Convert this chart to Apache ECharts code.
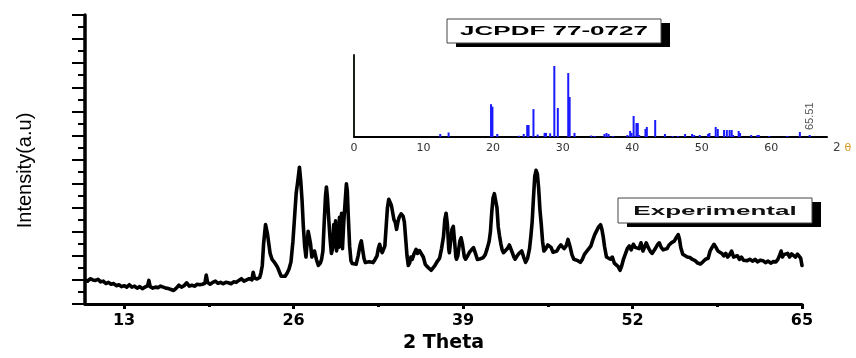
<!DOCTYPE html>
<html>
<head>
<meta charset="utf-8">
<script src="https://cdn.jsdelivr.net/npm/echarts@6/dist/echarts.min.js"></script>
<style>html,body{margin:0;padding:0;background:#fff}#c{width:856px;height:358px}</style>
</head>
<body>
<div id="c"></div>
<script>
// Experimental XRD pattern (2θ, intensity a.u.)
const expTheta = [10.0,10.2,10.4,10.6,10.8,11.0,11.2,11.4,11.6,11.8,12.0,12.2,12.4,12.6,12.8,13.0,13.2,13.4,13.6,13.8,14.0,14.2,14.4,14.6,14.8,14.9,15.0,15.2,15.4,15.6,15.8,16.0,16.2,16.4,16.6,16.8,17.0,17.2,17.4,17.6,17.8,18.0,18.2,18.4,18.6,18.8,19.0,19.2,19.3,19.4,19.6,19.8,20.0,20.2,20.4,20.6,20.8,21.0,21.2,21.4,21.6,21.8,22.0,22.2,22.4,22.6,22.8,22.9,23.0,23.2,23.4,23.5,23.6,23.7,23.85,24.0,24.1,24.2,24.35,24.5,24.65,24.75,24.9,25.05,25.2,25.35,25.5,25.65,25.8,25.95,26.05,26.2,26.3,26.45,26.55,26.65,26.75,26.85,26.95,27.05,27.12,27.2,27.3,27.4,27.5,27.6,27.75,27.9,28.05,28.15,28.25,28.35,28.45,28.52,28.6,28.7,28.8,28.9,29.0,29.08,29.15,29.22,29.3,29.38,29.45,29.52,29.6,29.68,29.75,29.85,29.95,30.05,30.12,30.2,30.3,30.4,30.5,30.65,30.8,30.95,31.1,31.2,31.3,31.4,31.5,31.65,31.8,31.95,32.1,32.25,32.4,32.5,32.6,32.7,32.8,32.9,33.0,33.1,33.2,33.3,33.4,33.5,33.6,33.7,33.8,33.9,34.0,34.1,34.25,34.4,34.5,34.6,34.7,34.8,34.9,35.0,35.1,35.25,35.4,35.5,35.65,35.8,35.95,36.1,36.25,36.4,36.55,36.7,36.85,37.0,37.1,37.2,37.35,37.5,37.6,37.7,37.8,37.9,37.95,38.05,38.15,38.25,38.35,38.45,38.5,38.6,38.75,38.85,38.95,39.1,39.2,39.35,39.5,39.65,39.8,39.95,40.1,40.2,40.35,40.55,40.7,40.85,41.0,41.1,41.2,41.3,41.4,41.5,41.6,41.7,41.8,41.9,42.0,42.1,42.25,42.4,42.55,42.66,42.8,42.9,43.0,43.15,43.3,43.5,43.65,43.8,43.95,44.1,44.2,44.3,44.4,44.5,44.6,44.7,44.8,44.9,45.0,45.1,45.2,45.35,45.5,45.65,45.75,45.9,46.05,46.2,46.35,46.5,46.6,46.75,46.9,47.05,47.2,47.35,47.5,47.65,47.8,48.0,48.15,48.3,48.5,48.65,48.8,48.95,49.1,49.25,49.4,49.55,49.65,49.75,49.85,50.0,50.15,50.3,50.45,50.6,50.75,50.9,51.04,51.15,51.3,51.45,51.6,51.75,51.9,52.06,52.2,52.35,52.5,52.65,52.8,52.95,53.05,53.2,53.35,53.5,53.6,53.75,53.9,54.05,54.2,54.35,54.5,54.65,54.8,55.0,55.2,55.35,55.5,55.6,55.7,55.85,56.0,56.2,56.4,56.6,56.8,57.0,57.2,57.4,57.6,57.8,57.95,58.1,58.25,58.4,58.55,58.7,58.85,59.0,59.15,59.3,59.45,59.6,59.75,59.9,60.05,60.2,60.35,60.5,60.65,60.8,61.0,61.2,61.4,61.6,61.8,62.0,62.2,62.4,62.6,62.8,63.0,63.15,63.3,63.4,63.5,63.6,63.75,63.9,64.05,64.2,64.35,64.5,64.65,64.8,64.9,65.0];
const expIntensity = [1.00,0.95,1.05,1.00,0.98,1.02,0.92,0.95,0.85,0.90,0.82,0.85,0.76,0.80,0.72,0.76,0.70,0.80,0.70,0.74,0.66,0.72,0.64,0.70,0.75,0.98,0.72,0.66,0.70,0.68,0.74,0.70,0.66,0.64,0.60,0.56,0.66,0.78,0.70,0.76,0.88,0.74,0.78,0.74,0.82,0.80,0.82,0.86,1.20,0.90,0.82,0.90,0.95,0.86,0.90,0.84,0.90,0.88,0.84,0.92,0.90,0.98,1.05,0.95,1.00,1.05,1.00,1.32,1.08,1.04,1.10,1.30,1.60,2.50,3.30,2.90,2.50,2.10,1.85,1.75,1.72,1.55,1.35,1.15,1.08,1.15,1.28,1.45,1.75,2.60,3.40,4.60,5.00,5.68,5.10,4.30,3.20,2.40,1.95,2.60,3.02,2.80,2.50,1.95,2.05,2.20,1.85,1.60,1.70,1.86,2.20,3.40,4.50,4.86,4.40,3.50,2.70,2.10,2.30,3.30,2.40,3.45,2.20,3.20,2.35,3.60,2.40,3.77,2.30,3.40,4.20,4.99,4.70,3.60,2.40,1.80,1.68,1.60,1.65,2.00,2.45,2.62,2.25,1.90,1.72,1.68,1.75,1.70,1.72,1.85,2.00,2.30,2.48,2.25,2.13,2.20,2.40,3.20,4.00,4.35,4.30,4.10,3.80,3.50,3.40,3.10,3.40,3.60,3.74,3.65,3.40,2.70,2.00,1.60,1.70,1.95,1.85,2.10,2.27,2.10,2.22,2.20,1.95,1.65,1.55,1.50,1.40,1.45,1.60,1.75,1.80,1.90,2.30,2.80,3.50,3.77,3.30,2.30,2.13,2.60,3.10,3.22,2.60,1.95,1.86,2.00,2.60,2.75,2.50,1.95,1.86,2.00,2.15,2.25,2.34,2.10,1.85,1.80,1.88,1.93,2.05,2.30,2.60,3.00,3.80,4.40,4.58,4.50,4.00,3.20,2.82,2.50,2.25,2.13,2.20,2.30,2.45,2.50,2.10,1.95,1.86,2.00,2.10,2.20,1.95,1.73,1.90,2.30,2.80,3.40,4.40,5.30,5.55,5.40,4.80,3.90,3.30,2.60,2.20,2.30,2.45,2.50,2.35,2.15,2.07,2.20,2.35,2.45,2.48,2.30,2.40,2.68,2.40,2.05,1.86,1.90,1.80,1.73,1.85,2.05,2.20,2.15,2.40,2.65,2.88,2.95,3.20,3.29,3.10,2.80,2.40,1.95,1.93,1.86,1.95,1.70,1.65,1.55,1.40,1.55,1.85,2.07,2.30,2.41,2.25,2.48,2.35,2.40,2.30,2.54,2.20,2.40,2.54,2.35,2.20,2.10,2.07,2.30,2.45,2.54,2.35,2.25,2.27,2.30,2.45,2.55,2.61,2.75,2.88,2.70,2.35,2.07,2.00,1.95,1.93,1.85,1.80,1.70,1.66,1.75,1.86,1.90,2.20,2.35,2.48,2.35,2.20,2.25,2.10,2.00,2.10,1.95,2.05,2.20,1.95,1.90,2.00,1.85,1.95,1.82,1.90,1.80,1.86,1.78,1.85,1.75,1.82,1.80,1.72,1.78,1.70,1.76,1.75,1.85,2.05,2.20,1.95,2.05,2.00,2.10,1.95,2.08,2.05,1.95,2.07,2.00,1.90,1.60];

// Reference pattern JCPDF 77-0727 (2θ, relative intensity)
const refTheta = [12.4,13.6,19.7,19.9,20.6,23.7,24.4,24.9,25.1,25.8,26.4,27.4,27.6,28.2,28.8,29.3,30.8,31.0,31.7,34.1,34.6,36.0,36.3,36.6,37.2,39.3,39.7,39.9,40.2,40.6,40.8,41.0,41.9,42.1,43.3,44.7,45.8,46.6,47.6,48.6,48.9,49.7,50.9,51.1,52.0,52.3,53.2,53.6,54.0,54.3,54.5,55.3,55.5,57.1,58.0,58.2,59.7,62.3,64.1,65.51];
const refIntensity = [3.7,5.5,40,37,3.7,1.5,3.7,14.6,14.6,34,3,5,5,4.5,86.6,35.4,78,48.8,5,1.8,1.2,3.7,4.9,3.7,1.2,2.4,7.3,4.9,25.6,17,17,2.4,9.8,12.2,20.7,3.7,1.2,1.2,3.7,3.7,2.4,2.4,3.7,4.9,12.2,9.8,8.5,8.5,8.5,8.5,2.4,7.3,4.9,2.4,2.4,2.4,1.2,1.2,6.1,2.4];
const labelledPeak = 65.51;

// Axis tick values
const mainMajorTicks = [13, 26, 39, 52, 65];
const mainMinorTicks = [19.5, 32.5, 45.5, 58.5];

const expData = expTheta.map((t, i) => [t, expIntensity[i]]);
const refData = refTheta.map((t, i) => {
  const item = { value: [t, refIntensity[i]] };
  if (t === labelledPeak) {
    item.label = {
      show: true, formatter: String(labelledPeak), position: 'top', rotate: 90,
      align: 'left', verticalAlign: 'middle', distance: 5,
      fontSize: 11, fontFamily: 'Liberation Sans', color: '#555'
    };
  }
  return item;
});

const chart = echarts.init(document.getElementById('c'), null, { renderer: 'canvas' });
chart.setOption({
  backgroundColor: '#fff',
  animation: false,
  grid: [
    { left: 85, top: 15, width: 717, height: 294 },
    { left: 354, top: 55, width: 473, height: 82 }
  ],
  xAxis: [
    {
      gridIndex: 0, type: 'value', min: 10, max: 65, position: 'bottom',
      axisLine: { show: true, onZero: false, lineStyle: { color: '#000', width: 3 } },
      axisTick: { show: true, customValues: mainMajorTicks, length: 5, lineStyle: { color: '#000', width: 3 } },
      axisLabel: { show: true, customValues: mainMajorTicks, margin: 9, color: '#000',
        fontFamily: 'DejaVu Sans', fontWeight: 'bold', fontSize: 16 },
      splitLine: { show: false },
      name: '2 Theta', nameLocation: 'middle', nameGap: 30,
      nameTextStyle: { color: '#000', fontFamily: 'DejaVu Sans', fontWeight: 'bold', fontSize: 19 }
    },
    {
      gridIndex: 0, type: 'value', min: 10, max: 65, position: 'bottom',
      axisLine: { show: false },
      axisTick: { show: true, customValues: mainMinorTicks, length: 3, lineStyle: { color: '#000', width: 3 } },
      axisLabel: { show: false },
      splitLine: { show: false }
    },
    {
      gridIndex: 1, type: 'value', min: 0, max: 68, interval: 10,
      axisLine: { show: true, lineStyle: { color: '#000', width: 2 } },
      axisTick: { show: false },
      axisLabel: { show: true, margin: 6, color: '#333', fontFamily: 'DejaVu Sans', fontSize: 11,
        showMaxLabel: false },
      splitLine: { show: false },
      name: '{a|2 }{b|θ}', nameLocation: 'end', nameGap: 6,
      nameTextStyle: { padding: [22, 0, 0, 0],
        rich: { a: { color: '#444', fontSize: 12, fontFamily: 'DejaVu Sans' },
                b: { color: '#d89a2a', fontSize: 11, fontFamily: 'DejaVu Sans' } } }
    }
  ],
  yAxis: [
    {
      gridIndex: 0, type: 'value', min: 0, max: 12, interval: 1,
      axisLine: { show: true, onZero: false, lineStyle: { color: '#000', width: 3.5 } },
      axisTick: { show: true, inside: false, length: 13, lineStyle: { color: '#000', width: 2 } },
      minorTick: { show: true, splitNumber: 2, length: 7, lineStyle: { color: '#000', width: 2 } },
      axisLabel: { show: false },
      splitLine: { show: false },
      name: 'Intensity(a.u)', nameLocation: 'middle', nameGap: 50, nameRotate: 90,
      nameTextStyle: { color: '#000', fontFamily: 'Liberation Sans', fontSize: 20, padding: [0, 22, 0, 0] }
    },
    {
      gridIndex: 1, type: 'value', min: 0, max: 100,
      axisLine: { show: true, onZero: false, lineStyle: { color: '#1a1f1a', width: 2 } },
      axisTick: { show: false },
      axisLabel: { show: false },
      splitLine: { show: false }
    }
  ],
  series: [
    {
      type: 'line', xAxisIndex: 0, yAxisIndex: 0, data: expData,
      showSymbol: false, symbol: 'none', smooth: false,
      lineStyle: { color: '#000', width: 3.6, join: 'round', cap: 'round' }
    },
    {
      type: 'bar', xAxisIndex: 2, yAxisIndex: 1, data: refData,
      barWidth: 2, itemStyle: { color: '#1a1aff' }
    }
  ],
  graphic: [
    { type: 'rect', z: 50, shape: { x: 456, y: 23, width: 214, height: 24 }, style: { fill: '#000' } },
    { type: 'rect', z: 51, shape: { x: 447, y: 19, width: 214, height: 24 }, style: { fill: '#fff', stroke: '#444', lineWidth: 1 } },
    { type: 'text', z: 52, x: 554, y: 31.5, scaleX: 2,
      style: { text: 'JCPDF 77-0727', font: 'bold 13px "Liberation Sans"', fill: '#000',
        align: 'center', verticalAlign: 'middle', textAlign: 'center', textVerticalAlign: 'middle' } },
    { type: 'rect', z: 50, shape: { x: 627, y: 202, width: 194, height: 25 }, style: { fill: '#000' } },
    { type: 'rect', z: 51, shape: { x: 618, y: 198, width: 194, height: 25 }, style: { fill: '#fff', stroke: '#444', lineWidth: 1 } },
    { type: 'text', z: 52, x: 715, y: 211, scaleX: 2,
      style: { text: 'Experimental', font: 'bold 13px "Liberation Sans"', fill: '#111',
        align: 'center', verticalAlign: 'middle', textAlign: 'center', textVerticalAlign: 'middle' } }
  ]
});
</script>
</body>
</html>
